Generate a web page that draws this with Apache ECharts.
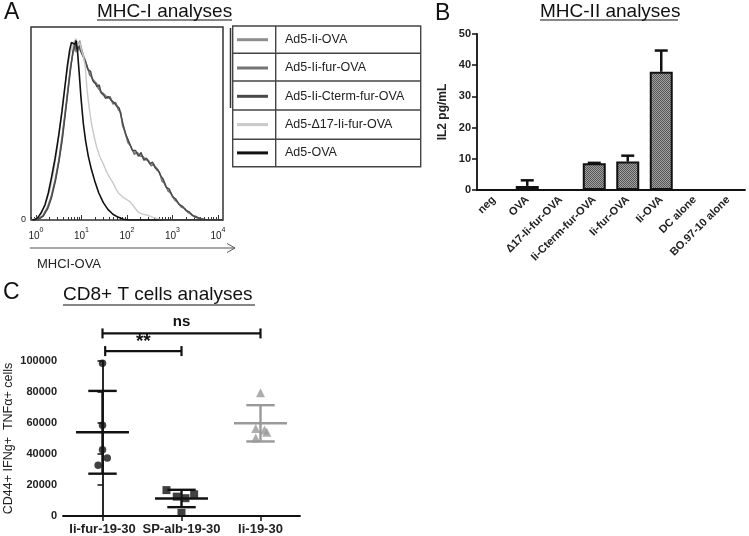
<!DOCTYPE html>
<html>
<head>
<meta charset="utf-8">
<script src="https://cdn.jsdelivr.net/npm/echarts@6/dist/echarts.min.js"></script>
<style>
html,body{margin:0;padding:0;background:#fff;}
#chart{width:749px;height:536px;}
</style>
</head>
<body>
<div id="chart"></div>
<script>
// ---------- Panel A: MHC-I histograms (x = log10 fluorescence, y = % of max) ----------
const seriesNamesA = ['Ad5-Ii-OVA', 'Ad5-Ii-fur-OVA', 'Ad5-Ii-Cterm-fur-OVA', 'Ad5-\u039417-Ii-fur-OVA', 'Ad5-OVA'];
const majorTicksA = [1, 10, 100, 1000, 10000];

const curveIiOVA = [[-0.05,0],[0.05,0.5],[0.15,2],[0.25,6],[0.33,11],[0.42,20],[0.5,30],[0.57,41],[0.64,55],[0.7,67],[0.76,79],[0.81,86],[0.84,90],[0.87,87],[0.9,92],[0.93,89],[0.96,93],[0.99,90],[1.03,86],[1.08,83],[1.13,79],[1.19,76],[1.24,73],[1.29,72],[1.33,70],[1.38,69],[1.42,66],[1.47,66],[1.52,64],[1.58,64],[1.63,63],[1.7,61],[1.76,60],[1.82,58],[1.86,55],[1.9,50],[1.96,45],[2.03,41],[2.1,37],[2.17,35],[2.24,34],[2.3,34],[2.36,32],[2.42,32],[2.48,30],[2.54,29],[2.6,28],[2.65,27],[2.72,24],[2.78,21],[2.84,18],[2.92,15],[2.98,13],[3.05,11],[3.13,8.5],[3.2,7],[3.27,5.8],[3.35,4],[3.42,2.6],[3.49,1.6],[3.58,0.8],[3.7,0.2],[3.85,0],[4.11,0]];
const curveIiFurOVA = [[-0.05,0],[0.05,0.6],[0.15,2.3],[0.25,6.5],[0.33,12],[0.42,21],[0.5,31],[0.57,43],[0.64,56],[0.7,68],[0.76,80],[0.8,85],[0.83,91],[0.86,88],[0.89,93],[0.92,88],[0.95,92],[0.98,89],[1.02,87],[1.07,82],[1.12,80],[1.18,75],[1.23,74],[1.28,71],[1.33,71],[1.37,68],[1.42,67],[1.46,65],[1.51,65],[1.57,63],[1.63,64],[1.69,60],[1.75,61],[1.81,57],[1.86,56],[1.9,49],[1.95,46],[2.02,40],[2.09,38],[2.16,34],[2.23,35],[2.29,33],[2.35,33],[2.41,31],[2.47,31],[2.53,28],[2.59,29],[2.65,26],[2.71,25],[2.77,20],[2.83,19],[2.9,15],[2.97,14],[3.04,10.5],[3.12,9],[3.2,6.5],[3.27,6],[3.34,3.8],[3.42,3],[3.5,1.4],[3.6,0.9],[3.72,0.2],[3.87,0],[4.11,0]];
const curveIiCtermFurOVA = [[-0.04,0],[0.06,0.5],[0.16,2],[0.26,6],[0.34,11.5],[0.43,20.5],[0.51,31],[0.58,42],[0.65,56],[0.71,68],[0.77,80],[0.81,87],[0.84,89],[0.88,92],[0.91,87],[0.94,91],[0.97,88],[1.01,88],[1.05,84],[1.09,82],[1.14,78],[1.2,77],[1.25,72],[1.3,71],[1.34,69],[1.39,70],[1.43,66],[1.48,65],[1.53,63],[1.59,64],[1.65,62],[1.71,61],[1.77,59],[1.83,58],[1.87,54],[1.92,49],[1.98,44],[2.05,40],[2.12,36],[2.19,36],[2.25,33],[2.31,35],[2.37,31],[2.43,32],[2.5,29],[2.56,30],[2.62,27],[2.68,26],[2.74,23],[2.8,21],[2.86,17],[2.93,16],[3.0,12],[3.07,11],[3.15,8],[3.22,7.2],[3.29,5],[3.37,4.2],[3.44,2.3],[3.52,1.8],[3.62,0.6],[3.74,0.2],[3.88,0],[4.11,0]];
const curveD17IiFurOVA = [[-0.1,0],[0.0,0.8],[0.1,3],[0.2,8],[0.3,15],[0.38,24],[0.46,36],[0.53,50],[0.6,63],[0.67,75],[0.73,84],[0.78,89],[0.83,92],[0.88,94],[0.92,90],[0.96,92],[1.0,88],[1.04,85],[1.08,80],[1.12,68],[1.17,58],[1.22,50],[1.28,43],[1.33,38],[1.4,33],[1.48,29],[1.55,25],[1.62,22],[1.7,19],[1.76,16],[1.81,14],[1.9,12],[2.0,10.5],[2.07,9.4],[2.15,7],[2.25,4],[2.35,3],[2.45,2.5],[2.54,1.6],[2.65,0.8],[2.76,0.2],[2.9,0],[4.11,0]];
const curveAd5OVA = [[-0.1,0],[-0.02,0.3],[0.05,1.5],[0.12,4],[0.2,8],[0.27,14],[0.34,22],[0.42,32],[0.5,44],[0.57,56],[0.63,68],[0.69,80],[0.74,88],[0.78,92],[0.81,93],[0.85,91],[0.88,93],[0.91,88],[0.95,76],[0.99,63],[1.04,50],[1.09,41],[1.15,33],[1.22,26],[1.3,19.5],[1.38,14],[1.48,9],[1.58,5.5],[1.69,3],[1.8,1.5],[1.92,0.4],[2.05,0],[4.11,0]];

// ---------- Panel B: MHC-II, IL2 pg/mL ----------
const categoriesB = ['neg', 'OVA', '\u039417-Ii-fur-OVA', 'Ii-Cterm-fur-OVA', 'Ii-fur-OVA', 'Ii-OVA', 'DC alone', 'BO.97-10 alone'];
const valuesB = [0, 1.3, 0, 8.6, 9.1, 37.9, 0, 0];
const errorsB = [0, 1.8, 0, 0.1, 1.9, 6.8, 0, 0];

// ---------- Panel C: CD8+ T cells ----------
const categoriesC = ['Ii-fur-19-30', 'SP-alb-19-30', 'Ii-19-30'];
const valuesIiFur = [98500, 58600, 42700, 37400, 32700];
const jitterIiFur = [0, 0, 0, 0.06, -0.055];
const valuesSPalb = [16700, 12500, 11500, 14000, 2000];
const jitterSPalb = [-0.19, -0.06, 0.05, 0.16, 0];
const valuesIi = [79500, 56500, 55500, 54000, 50300];
const jitterIi = [0, -0.06, 0.05, 0.08, -0.06];
const meanC = [54000, 11300, 59800];
const sdC = [26700, 5600, 11700];
const bracketsC = [[0.034, 1, 106400], [0, 2, 117800]];
const bracketLabelsC = ['**', 'ns'];

const FONT = '"Liberation Sans", Arial, Helvetica, sans-serif';

// minor log ticks for panel A
const minorTicksA = [];
[0.1, 1, 10, 100, 1000].forEach(d => { for (let k = 2; k <= 9; k++) { const v = Math.log10(k * d); if (v > -0.11 && v < 4.11) minorTicksA.push(v); } });
const majorLogA = majorTicksA.map(v => Math.log10(v));

// bar fill pattern
const pat = document.createElement('canvas');
pat.width = 2; pat.height = 2;
const pctx = pat.getContext('2d');
pctx.fillStyle = '#a2a2a2'; pctx.fillRect(0, 0, 2, 2);
pctx.fillStyle = '#555555'; pctx.fillRect(0, 0, 1, 1); pctx.fillRect(1, 1, 1, 1);

const colorsA = ['#8e8e8e', '#757575', '#4a4a4a', '#c9c9c9', '#111111'];
const curvesA = [curveIiOVA, curveIiFurOVA, curveIiCtermFurOVA, curveD17IiFurOVA, curveAd5OVA];

const chart = echarts.init(document.getElementById('chart'), null, {renderer: 'canvas'});

const seriesA = curvesA.map((c, i) => ({
  name: seriesNamesA[i], type: 'line', xAxisIndex: 0, yAxisIndex: 0,
  data: c, showSymbol: false, symbol: 'none', smooth: false, silent: true,
  lineStyle: {color: colorsA[i], width: i === 4 ? 1.6 : 1.4},
  itemStyle: {color: colorsA[i]},
  z: i === 4 ? 5 : 3
}));

const placed = (vals, jit, idx) => vals.map((v, k) => [idx + jit[k], v]);

const axisLineStyle = {color: '#111', width: 1.8};
const titleStyle = (fs) => ({fontSize: fs, fontWeight: 'normal', color: '#111', fontFamily: FONT});

const option = {
  animation: false,
  backgroundColor: '#fff',
  textStyle: {fontFamily: FONT},
  title: [
    {text: 'A', left: 4, top: 1, padding: 0, textStyle: titleStyle(23)},
    {text: 'MHC-I analyses', left: 97, top: 2, padding: 0, textStyle: titleStyle(19)},
    {text: 'B', left: 435, top: 2, padding: 0, textStyle: titleStyle(23)},
    {text: 'MHC-II analyses', left: 540, top: 2, padding: 0, textStyle: titleStyle(19)},
    {text: 'C', left: 3, top: 281, padding: 0, textStyle: titleStyle(23)},
    {text: 'CD8+ T cells analyses', left: 63, top: 285, padding: 0, textStyle: titleStyle(19)}
  ],
  legend: {
    data: seriesNamesA,
    orient: 'vertical', left: 237, top: 32.7, padding: 0,
    itemWidth: 31, itemHeight: 3, itemGap: 14.3,
    icon: 'rect', selectedMode: false,
    textStyle: {fontSize: 12.5, color: '#222', fontFamily: FONT, lineHeight: 14, padding: [0, 0, 0, 12]}
  },
  grid: [
    {left: 31, top: 27, width: 192, height: 193, show: true, borderColor: '#333', borderWidth: 1.5, backgroundColor: 'transparent'},
    {left: 477, top: 34, width: 268, height: 156},
    {left: 63, top: 361, width: 237, height: 157}
  ],
  xAxis: [
    {gridIndex: 0, type: 'value', min: -0.11, max: 4.11, position: 'bottom',
      axisLine: {show: false}, splitLine: {show: false},
      axisTick: {show: true, inside: true, length: 5, customValues: majorLogA, lineStyle: {color: '#333', width: 1}},
      axisLabel: {show: true, customValues: majorLogA, margin: 7,
        formatter: v => '{b|10}{s|' + Math.round(v) + '}',
        rich: {b: {fontSize: 10, color: '#222', fontFamily: FONT, lineHeight: 14, verticalAlign: 'bottom'},
               s: {fontSize: 7, color: '#222', fontFamily: FONT, lineHeight: 14, verticalAlign: 'top'}}}},
    {gridIndex: 0, type: 'value', min: -0.11, max: 4.11, position: 'bottom',
      axisLine: {show: false}, splitLine: {show: false}, axisLabel: {show: false},
      axisTick: {show: true, inside: true, length: 3, customValues: minorTicksA, lineStyle: {color: '#333', width: 1}}},
    {gridIndex: 1, type: 'category', data: categoriesB, boundaryGap: true,
      axisLine: {lineStyle: axisLineStyle},
      axisTick: {alignWithLabel: true, length: 5, lineStyle: {color: '#111', width: 1.5}},
      axisLabel: {interval: 0, rotate: 45, fontSize: 11, fontWeight: 'bold', color: '#222', margin: 8, fontFamily: FONT},
      splitLine: {show: false}},
    {gridIndex: 2, type: 'value', min: -0.5, max: 2.5,
      axisLine: {lineStyle: axisLineStyle}, splitLine: {show: false},
      axisTick: {customValues: [0, 1, 2], length: 5, lineStyle: {color: '#111', width: 1.5}},
      axisLabel: {customValues: [0, 1, 2], formatter: v => categoriesC[Math.round(v)], fontSize: 13, fontWeight: 'bold', color: '#222', margin: 7, fontFamily: FONT}}
  ],
  yAxis: [
    {gridIndex: 0, type: 'value', min: 0, max: 100,
      axisLine: {show: false}, splitLine: {show: false},
      axisTick: {show: true, customValues: [0], length: 3, lineStyle: {color: '#333'}},
      axisLabel: {customValues: [0], fontSize: 9, color: '#222', margin: 5}},
    {gridIndex: 1, type: 'value', min: 0, max: 50, interval: 10,
      name: 'IL2 pg/mL', nameLocation: 'middle', nameGap: 28, nameRotate: 90,
      nameTextStyle: {fontSize: 12, fontWeight: 'bold', color: '#222', fontFamily: FONT},
      axisLine: {show: true, lineStyle: axisLineStyle}, splitLine: {show: false},
      axisTick: {show: true, length: 5, lineStyle: {color: '#111', width: 1.5}},
      axisLabel: {fontSize: 11, fontWeight: 'bold', color: '#222', margin: 6, fontFamily: FONT}},
    {gridIndex: 2, type: 'value', min: 0, max: 100000, interval: 20000,
      name: 'CD44+ IFNg+  TNF\u03b1+ cells', nameLocation: 'middle', nameGap: 48, nameRotate: 90,
      nameTextStyle: {fontSize: 12.5, color: '#222', fontFamily: FONT},
      axisLine: {show: true, lineStyle: axisLineStyle}, splitLine: {show: false},
      axisTick: {show: true, length: 5, lineStyle: {color: '#111', width: 1.5}},
      axisLabel: {fontSize: 11, fontWeight: 'bold', color: '#222', margin: 6, fontFamily: FONT, formatter: v => String(v)}}
  ],
  series: seriesA.concat([
    {type: 'bar', xAxisIndex: 2, yAxisIndex: 1, data: valuesB, barWidth: 23, silent: true,
      itemStyle: {color: {image: pat, repeat: 'repeat'}, borderColor: '#111', borderWidth: 2}},
    {type: 'custom', xAxisIndex: 2, yAxisIndex: 1, silent: true, z: 4,
      data: valuesB.map((v, i) => [i, v, errorsB[i]]),
      renderItem: function (params, api) {
        const x = api.value(0), v = api.value(1), e = api.value(2);
        if (!(e > 0)) return null;
        const p0 = api.coord([x, v]);
        const p1 = api.coord([x, v + e]);
        const hw = 6.5;
        const st = {stroke: '#111', lineWidth: 2.5};
        return {type: 'group', children: [
          {type: 'line', shape: {x1: p0[0], y1: p0[1], x2: p1[0], y2: p1[1]}, style: st},
          {type: 'line', shape: {x1: p1[0] - hw, y1: p1[1], x2: p1[0] + hw, y2: p1[1]}, style: st}
        ]};
      }},
    {type: 'custom', xAxisIndex: 3, yAxisIndex: 2, silent: true, z: 3,
      data: meanC.map((m, i) => [i, m, sdC[i]]),
      renderItem: function (params, api) {
        const i = api.value(0), m = api.value(1), s = api.value(2);
        const col = i === 2 ? '#999' : '#111';
        const st = {stroke: col, lineWidth: 2.4};
        const a = api.coord([i - 0.335, m]), b = api.coord([i + 0.335, m]);
        const lo = api.coord([i, m - s]), hi = api.coord([i, m + s]);
        const cl1 = api.coord([i - 0.18, m + s]), cr1 = api.coord([i + 0.18, m + s]);
        const cl2 = api.coord([i - 0.18, m - s]), cr2 = api.coord([i + 0.18, m - s]);
        return {type: 'group', children: [
          {type: 'line', shape: {x1: a[0], y1: a[1], x2: b[0], y2: b[1]}, style: st},
          {type: 'line', shape: {x1: lo[0], y1: lo[1], x2: hi[0], y2: hi[1]}, style: st},
          {type: 'line', shape: {x1: cl1[0], y1: cl1[1], x2: cr1[0], y2: cr1[1]}, style: st},
          {type: 'line', shape: {x1: cl2[0], y1: cl2[1], x2: cr2[0], y2: cr2[1]}, style: st}
        ]};
      }},
    {type: 'scatter', xAxisIndex: 3, yAxisIndex: 2, data: placed(valuesIiFur, jitterIiFur, 0), symbol: 'circle', symbolSize: 7.5, silent: true,
      itemStyle: {color: '#111'}, z: 5},
    {type: 'scatter', xAxisIndex: 3, yAxisIndex: 2, data: placed(valuesSPalb, jitterSPalb, 1), symbol: 'rect', symbolSize: 8, silent: true,
      itemStyle: {color: '#111'}, z: 5},
    {type: 'scatter', xAxisIndex: 3, yAxisIndex: 2, data: placed(valuesIi, jitterIi, 2), symbol: 'triangle', symbolSize: 9, silent: true,
      itemStyle: {color: '#999'}, z: 5},
    {type: 'custom', xAxisIndex: 3, yAxisIndex: 2, silent: true, clip: false,
      data: bracketsC,
      renderItem: function (params, api) {
        const p1 = api.coord([api.value(0), api.value(2)]);
        const p2 = api.coord([api.value(1), api.value(2)]);
        const st = {stroke: '#111', lineWidth: 2.2};
        const t = 5;
        const isStar = params.dataIndex === 0;
        return {type: 'group', children: [
          {type: 'line', shape: {x1: p1[0], y1: p1[1], x2: p2[0], y2: p2[1]}, style: st},
          {type: 'line', shape: {x1: p1[0], y1: p1[1] - t, x2: p1[0], y2: p1[1] + t}, style: st},
          {type: 'line', shape: {x1: p2[0], y1: p2[1] - t, x2: p2[0], y2: p2[1] + t}, style: st},
          {type: 'text', x: (p1[0] + p2[0]) / 2, y: p1[1] - (isStar ? 0 : 4),
            style: {text: bracketLabelsC[params.dataIndex], fill: '#111', font: 'bold ' + (isStar ? 19 : 15) + 'px ' + FONT, textAlign: 'center', textVerticalAlign: 'bottom'}}
        ]};
      }}
  ]),
  graphic: [
    // title underlines
    {type: 'line', shape: {x1: 97, y1: 20, x2: 232, y2: 20}, style: {stroke: '#111', lineWidth: 1.2}},
    {type: 'line', shape: {x1: 540, y1: 20, x2: 678, y2: 20}, style: {stroke: '#111', lineWidth: 1.2}},
    {type: 'line', shape: {x1: 63, y1: 305, x2: 255, y2: 305}, style: {stroke: '#111', lineWidth: 1.2}},
    // legend table
    {type: 'rect', shape: {x: 232.7, y: 26, width: 188, height: 140.7}, style: {fill: 'none', stroke: '#444', lineWidth: 1.4}},
    {type: 'line', shape: {x1: 275.7, y1: 26, x2: 275.7, y2: 166.7}, style: {stroke: '#444', lineWidth: 1.4}},
    {type: 'line', shape: {x1: 232.7, y1: 53.3, x2: 420.7, y2: 53.3}, style: {stroke: '#444', lineWidth: 1.4}},
    {type: 'line', shape: {x1: 232.7, y1: 81, x2: 420.7, y2: 81}, style: {stroke: '#444', lineWidth: 1.4}},
    {type: 'line', shape: {x1: 232.7, y1: 110, x2: 420.7, y2: 110}, style: {stroke: '#444', lineWidth: 1.4}},
    {type: 'line', shape: {x1: 232.7, y1: 139.3, x2: 420.7, y2: 139.3}, style: {stroke: '#444', lineWidth: 1.4}},
    {type: 'line', shape: {x1: 230.5, y1: 28, x2: 230.5, y2: 108}, style: {stroke: '#333', lineWidth: 1.5}},
    // MHCI-OVA arrow
    {type: 'polyline', shape: {points: [[30, 248], [235, 248]]}, style: {stroke: '#555', lineWidth: 1}},
    {type: 'polyline', shape: {points: [[227, 243.5], [235, 248], [227, 252.5]]}, style: {stroke: '#555', lineWidth: 1, fill: 'none'}},
    {type: 'text', x: 37, y: 258, style: {text: 'MHCI-OVA', fill: '#222', font: '13px ' + FONT}}
  ]
};
chart.setOption(option);
</script>
</body>
</html>
